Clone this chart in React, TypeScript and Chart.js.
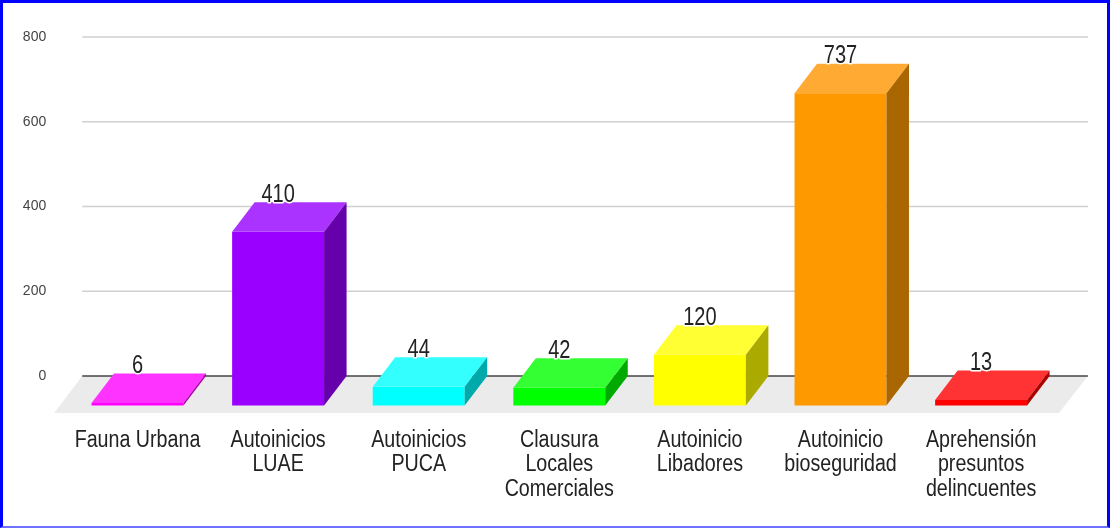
import { useEffect, useRef } from "react";
import { Chart, registerables } from "chart.js";

Chart.register(...registerables);

// ---- data ----
const categories: string[][] = [
  ["Fauna Urbana"],
  ["Autoinicios", "LUAE"],
  ["Autoinicios", "PUCA"],
  ["Clausura", "Locales", "Comerciales"],
  ["Autoinicio", "Libadores"],
  ["Autoinicio", "bioseguridad"],
  ["Aprehensión", "presuntos", "delincuentes"],
];
const values: number[] = [6, 410, 44, 42, 120, 737, 13];
const yTicks: number[] = [0, 200, 400, 600, 800];

// ---- styles ----
const frontColors = ["#ff00ff", "#9900ff", "#00ffff", "#00ff00", "#ffff00", "#ff9900", "#ff0000"];
const topColors = ["#ff33ff", "#aa33ff", "#33ffff", "#33ff33", "#ffff33", "#ffaa33", "#ff3333"];
const sideColors = ["#aa00aa", "#6600aa", "#00aaaa", "#00aa00", "#aaaa00", "#aa6600", "#aa0000"];

const DX = 22.5;
const DY = 29.5;
const FONT = "'Liberation Sans', Arial, sans-serif";

const threeDPlugin = {
  id: "threeD",
  beforeDatasetsDraw(chart: any) {
    const { ctx, chartArea, scales } = chart;
    const y = scales.y;
    const y0 = y.getPixelForValue(0);
    const gl = chartArea.left + 15;
    const gr = chartArea.right + 36.5;
    ctx.save();
    ctx.strokeStyle = "#d0d0d0";
    ctx.lineWidth = 1.3;
    yTicks.forEach((v) => {
      if (v === 0) return;
      const py = y.getPixelForValue(v);
      ctx.beginPath();
      ctx.moveTo(gl, py);
      ctx.lineTo(gr, py);
      ctx.stroke();
    });
    // floor
    ctx.fillStyle = "#ebebeb";
    ctx.beginPath();
    ctx.moveTo(gl, y0);
    ctx.lineTo(gr, y0);
    ctx.lineTo(gr - 29, y0 + 37);
    ctx.lineTo(gl - 28, y0 + 37);
    ctx.closePath();
    ctx.fill();
    // zero line
    ctx.strokeStyle = "#444444";
    ctx.lineWidth = 1.5;
    ctx.beginPath();
    ctx.moveTo(gl, y0);
    ctx.lineTo(gr, y0);
    ctx.stroke();
    ctx.restore();
  },
  afterDatasetsDraw(chart: any) {
    const { ctx } = chart;
    const meta = chart.getDatasetMeta(0);
    ctx.save();
    meta.data.forEach((bar: any, i: number) => {
      const { x, y, base, width } = bar.getProps(["x", "y", "base", "width"], true);
      const l = x - width / 2;
      const r = x + width / 2;
      // front
      ctx.fillStyle = frontColors[i];
      ctx.fillRect(l, y + DY, width, base - y);
      // top
      ctx.fillStyle = topColors[i];
      ctx.beginPath();
      ctx.moveTo(l, y + DY);
      ctx.lineTo(r, y + DY);
      ctx.lineTo(r + DX, y);
      ctx.lineTo(l + DX, y);
      ctx.closePath();
      ctx.fill();
      // side
      ctx.fillStyle = sideColors[i];
      ctx.beginPath();
      ctx.moveTo(r, y + DY);
      ctx.lineTo(r + DX, y);
      ctx.lineTo(r + DX, base);
      ctx.lineTo(r, base + DY);
      ctx.closePath();
      ctx.fill();
    });
    // value labels
    ctx.font = `26px ${FONT}`;
    ctx.textAlign = "center";
    ctx.textBaseline = "alphabetic";
    ctx.lineJoin = "round";
    meta.data.forEach((bar: any, i: number) => {
      const { x, y } = bar.getProps(["x", "y"], true);
      ctx.save();
      ctx.translate(x, y - 0.5);
      ctx.scale(0.77, 1);
      ctx.strokeStyle = "#ffffff";
      ctx.lineWidth = 3;
      ctx.strokeText(String(values[i]), 0, 0);
      ctx.fillStyle = "#222222";
      ctx.fillText(String(values[i]), 0, 0);
      ctx.restore();
    });
    // category labels
    const xs = chart.scales.x;
    const y0 = chart.scales.y.getPixelForValue(0);
    ctx.font = `23px ${FONT}`;
    ctx.fillStyle = "#222222";
    categories.forEach((lines, i) => {
      const cx = xs.getPixelForValue(i);
      lines.forEach((t, j) => {
        ctx.save();
        ctx.translate(cx, y0 + 70.7 + j * 24.7);
        ctx.scale(0.855, 1);
        ctx.fillText(t, 0, 0);
        ctx.restore();
      });
    });
    ctx.restore();
  },
};

export default function App() {
  const ref = useRef<HTMLCanvasElement | null>(null);
  useEffect(() => {
    if (!ref.current) return;
    const chart = new Chart(ref.current, {
      type: "bar",
      data: {
        labels: categories.map((c) => c.join(" ")),
        datasets: [
          {
            data: values,
            backgroundColor: "rgba(0,0,0,0)",
            borderWidth: 0,
            categoryPercentage: 1,
            barPercentage: 0.654,
          },
        ],
      },
      options: {
        animation: false,
        responsive: false,
        devicePixelRatio: 1,
        layout: { padding: { left: 7.2, right: 58.6, top: 37, bottom: 152 } },
        plugins: { legend: { display: false }, tooltip: { enabled: false } },
        scales: {
          x: { display: false },
          y: {
            min: 0,
            max: 800,
            afterFit: (s: any) => {
              s.width = 60;
            },
            grid: { display: false, drawTicks: false },
            border: { display: false },
            ticks: {
              stepSize: 200,
              padding: 21,
              color: "#444444",
              font: { family: FONT, size: 14 },
            },
          },
        },
      },
      plugins: [threeDPlugin],
    });
    return () => chart.destroy();
  }, []);
  return (
    <div style={{ position: "fixed", left: 0, top: 0, width: 1110, height: 528, background: "#ffffff" }}>
      <canvas ref={ref} width={1110} height={528} style={{ display: "block" }} />
      <div
        style={{
          position: "absolute",
          left: 0,
          top: 0,
          width: 1110,
          height: 528,
          boxSizing: "border-box",
          borderTop: "3px solid #0000ff",
          borderLeft: "3px solid #0000ff",
          borderRight: "3px solid #0000ff",
          borderBottom: "2px solid #7070ff",
          pointerEvents: "none",
        }}
      />
    </div>
  );
}
